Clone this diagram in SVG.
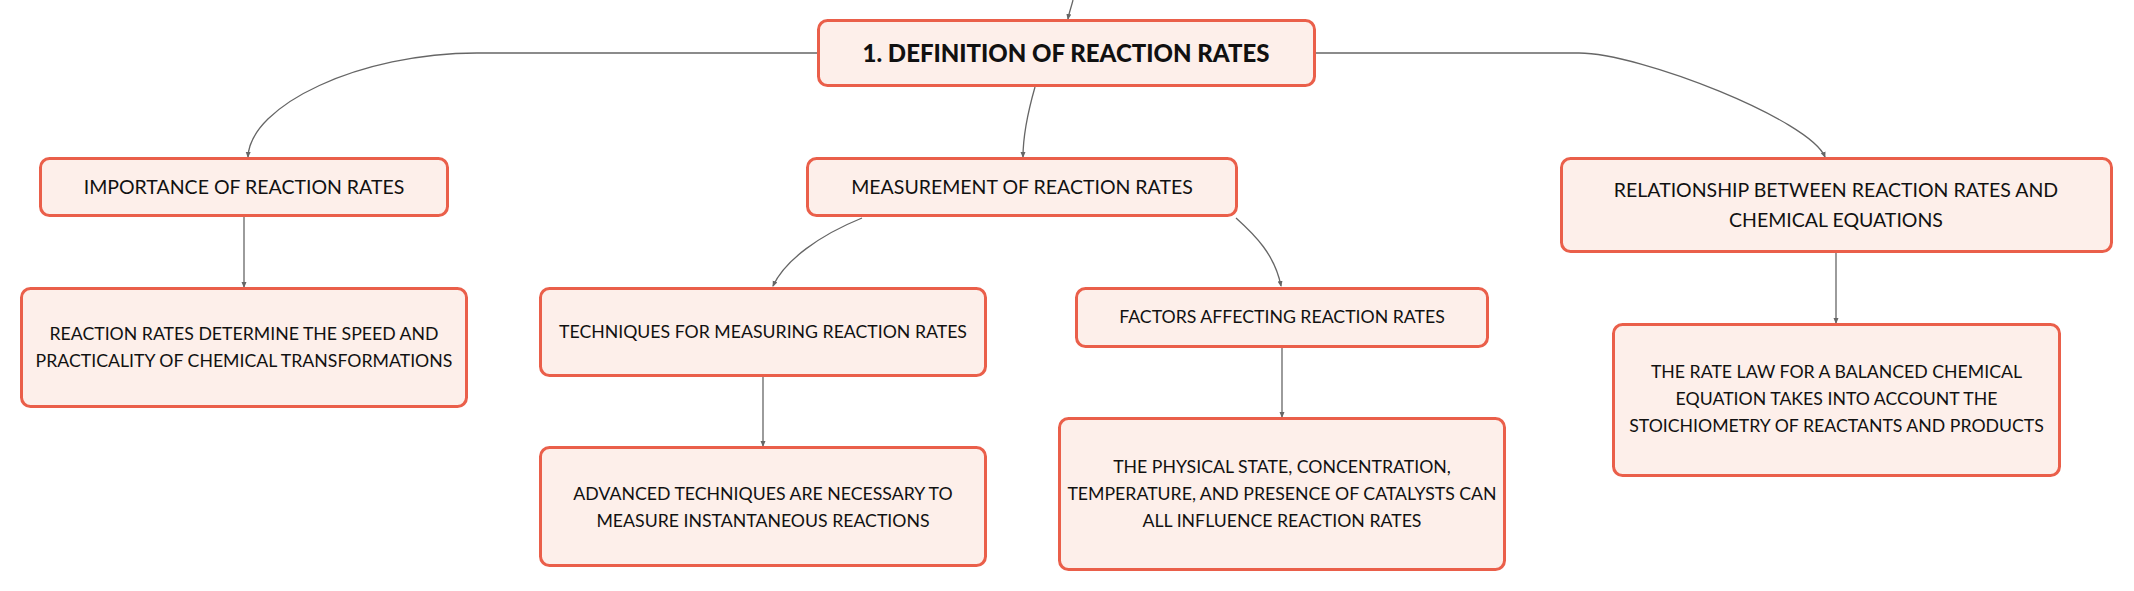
<svg xmlns="http://www.w3.org/2000/svg" width="2134" height="591" viewBox="0 0 2134 591">
<defs>
<style>
.box{fill:#FDEFEA;stroke:#EA5F4A;stroke-width:3}
.t{font-family:Lato,"Open Sans","Liberation Sans",sans-serif;font-size:17.7px;fill:#111;text-anchor:middle}
.h{font-size:19.5px}
.title{font-size:24px;font-weight:900}
.c{fill:none;stroke:#666;stroke-width:1.3}
</style>
<marker id="ar" viewBox="0 0 6 6" refX="5" refY="3" markerWidth="6" markerHeight="6" markerUnits="userSpaceOnUse" orient="auto">
<path d="M0,0.5 L6,3 L0,5.5 Z" fill="#666"/>
</marker>
</defs>
<rect width="2134" height="591" fill="#fff"/>
<g id="connectors">
<path class="c" d="M1073,0 C1071,8 1069,13 1068,19" marker-end="url(#ar)"/>
<path class="c" d="M817,53 L477,53 C360,53 250,105 248,157" marker-end="url(#ar)"/>
<path class="c" d="M1316,53 L1579,53 C1640,53 1810,120 1825,157" marker-end="url(#ar)"/>
<path class="c" d="M1035,87 C1027,115 1023,135 1023,157" marker-end="url(#ar)"/>
<path class="c" d="M244,217 L244,287" marker-end="url(#ar)"/>
<path class="c" d="M862,218 C820,235 785,260 773,286" marker-end="url(#ar)"/>
<path class="c" d="M1236,218 C1255,235 1275,255 1281,286" marker-end="url(#ar)"/>
<path class="c" d="M763,377 L763,446" marker-end="url(#ar)"/>
<path class="c" d="M1282,348 L1282,417" marker-end="url(#ar)"/>
<path class="c" d="M1836,253 L1836,323" marker-end="url(#ar)"/>
</g>
<g id="root">
<rect class="box" x="818.5" y="20.5" width="496" height="65" rx="9"/>
<text class="t title" x="1066" y="62">1. DEFINITION OF REACTION RATES</text>
</g>
<g id="importance">
<rect class="box" x="40.5" y="158.5" width="407" height="57" rx="9"/>
<text class="t h" x="244" y="194">IMPORTANCE OF REACTION RATES</text>
</g>
<g id="measurement">
<rect class="box" x="807.5" y="158.5" width="429" height="57" rx="9"/>
<text class="t h" x="1022" y="194">MEASUREMENT OF REACTION RATES</text>
</g>
<g id="relationship">
<rect class="box" x="1561.5" y="158.5" width="550" height="93" rx="9"/>
<text class="t h" x="1836" y="197">RELATIONSHIP BETWEEN REACTION RATES AND</text>
<text class="t h" x="1836" y="227">CHEMICAL EQUATIONS</text>
</g>
<g id="importance-detail">
<rect class="box" x="21.5" y="288.5" width="445" height="118" rx="9"/>
<text class="t" x="244" y="340">REACTION RATES DETERMINE THE SPEED AND</text>
<text class="t" x="244" y="367">PRACTICALITY OF CHEMICAL TRANSFORMATIONS</text>
</g>
<g id="techniques">
<rect class="box" x="540.5" y="288.5" width="445" height="87" rx="9"/>
<text class="t" x="763" y="338">TECHNIQUES FOR MEASURING REACTION RATES</text>
</g>
<g id="advanced">
<rect class="box" x="540.5" y="447.5" width="445" height="118" rx="9"/>
<text class="t" x="763" y="500">ADVANCED TECHNIQUES ARE NECESSARY TO</text>
<text class="t" x="763" y="527">MEASURE INSTANTANEOUS REACTIONS</text>
</g>
<g id="factors">
<rect class="box" x="1076.5" y="288.5" width="411" height="58" rx="9"/>
<text class="t" x="1282" y="323">FACTORS AFFECTING REACTION RATES</text>
</g>
<g id="physical">
<rect class="box" x="1059.5" y="418.5" width="445" height="151" rx="9"/>
<text class="t" x="1282" y="473">THE PHYSICAL STATE, CONCENTRATION,</text>
<text class="t" x="1282" y="500">TEMPERATURE, AND PRESENCE OF CATALYSTS CAN</text>
<text class="t" x="1282" y="527">ALL INFLUENCE REACTION RATES</text>
</g>
<g id="ratelaw">
<rect class="box" x="1613.5" y="324.5" width="446" height="151" rx="9"/>
<text class="t" x="1836.5" y="378">THE RATE LAW FOR A BALANCED CHEMICAL</text>
<text class="t" x="1836.5" y="405">EQUATION TAKES INTO ACCOUNT THE</text>
<text class="t" x="1836.5" y="432">STOICHIOMETRY OF REACTANTS AND PRODUCTS</text>
</g>
</svg>
